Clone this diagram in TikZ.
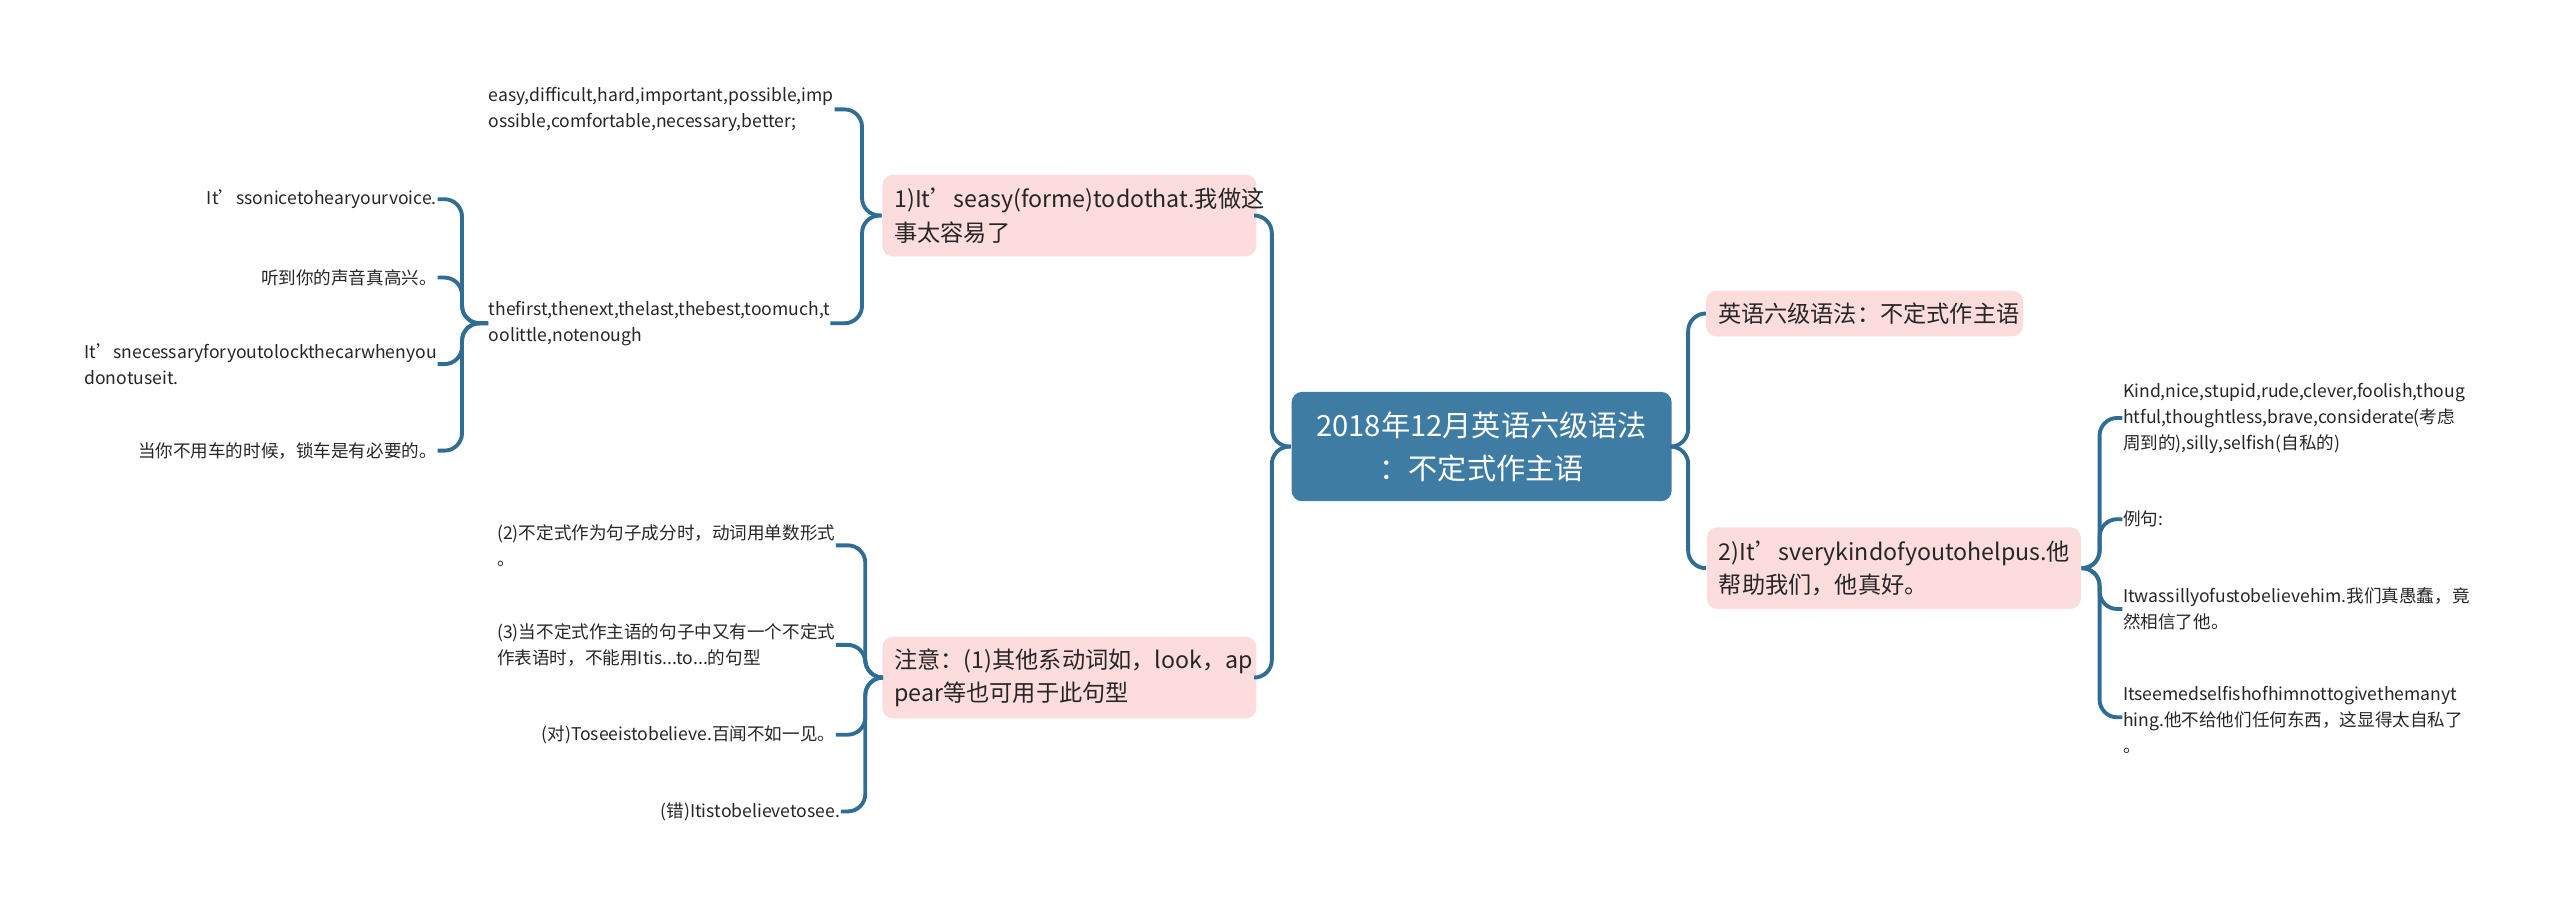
\documentclass[tikz,border=0pt]{standalone}
\usepackage{fontspec}
\setmainfont{Noto Sans CJK SC}
\begin{document}
\begin{tikzpicture}[x=0.01633cm,y=-0.01633cm,
  conn/.style={draw=linec,line width=1.1pt,rounded corners=5pt},
  leaf/.style={inner sep=0pt,align=left,font=\fontsize{5}{7.4}\selectfont,text=black!85},
  br/.style={fill=brfill,rounded corners=3pt,align=left,font=\fontsize{6.6}{9.5}\selectfont,text=black!85,inner xsep=0.12cm},
]
\definecolor{linec}{HTML}{2F6D96}
\definecolor{rootc}{HTML}{3F7CA3}
\definecolor{brfill}{HTML}{FCDCDC}
\useasboundingbox (0,0) rectangle (1568,555.5);
% root
\node[fill=rootc,rounded corners=3pt,text=white,align=center,minimum width=3.8cm,minimum height=1.094cm,font=\fontsize{8.3}{12.2}\selectfont] (root) at (907.5,273.5) {2018年12月英语六级语法\\：不定式作主语};
% branches
\node[br,text width=3.5cm,minimum height=0.8165cm] (b1) at (655,132) {1)It'seasy(forme)todothat.我做这\\事太容易了};
\node[br,text width=3.5cm,minimum height=0.8165cm] (b2) at (655,415) {注意：(1)其他系动词如，look，ap\\pear等也可用于此句型};
\node[br,text width=2.93cm,minimum height=0.457cm] (b3) at (1142,192) {英语六级语法：不定式作主语};
\node[br,text width=3.5cm,minimum height=0.8165cm] (b4) at (1160,348) {2)It'sverykindofyoutohelpus.他\\帮助我们，他真好。};
\coordinate (vL) at (779,0);
\coordinate (vR) at (1034,0);
\draw[conn] (root.west) -- (root.west -| vL) |- (b1.east);
\draw[conn] (root.west) -- (root.west -| vL) |- (b2.east);
\draw[conn] (root.east) -- (root.east -| vR) |- (b3.west);
\draw[conn] (root.east) -- (root.east -| vR) |- (b4.west);
% branch 1 children
\node[leaf,anchor=west] (e1) at (299,67) {easy,difficult,hard,important,possible,imp\\ossible,comfortable,necessary,better;};
\node[leaf,anchor=west] (e2) at (299,198) {thefirst,thenext,thelast,thebest,toomuch,t\\oolittle,notenough};
\coordinate (v1) at (528,0);
\draw[conn] (b1.west) -- (b1.west -| v1) |- (e1.east);
\draw[conn] (b1.west) -- (b1.west -| v1) |- (e2.east);
% e2 children
\node[leaf,anchor=east] (f1) at (268,122) {It'ssonicetohearyourvoice.};
\node[leaf,anchor=east] (f2) at (268,170) {听到你的声音真高兴。};
\node[leaf,anchor=east] (f3) at (268,223) {It'snecessaryforyoutolockthecarwhenyou\\donotuseit.};
\node[leaf,anchor=east] (f4) at (268,276) {当你不用车的时候，锁车是有必要的。};
\coordinate (v2) at (283,0);
\foreach \n in {f1,f2,f3,f4} \draw[conn] (e2.west) -- (e2.west -| v2) |- (\n.east);
% branch 2 children
\node[leaf,anchor=east] (g1) at (512,334) {(2)不定式作为句子成分时，动词用单数形式\\。};
\node[leaf,anchor=east] (g2) at (512,395) {(3)当不定式作主语的句子中又有一个不定式\\作表语时，不能用Itis...to...的句型};
\node[leaf,anchor=east] (g3) at (512,450) {(对)Toseeistobelieve.百闻不如一见。};
\node[leaf,anchor=east] (g4) at (515,497) {(错)Itistobelievetosee.};
\coordinate (v3) at (530,0);
\foreach \n in {g1,g2,g3,g4} \draw[conn] (b2.west) -- (b2.west -| v3) |- (\n.east);
% branch 4 children
\node[leaf,anchor=west] (h1) at (1300,256) {Kind,nice,stupid,rude,clever,foolish,thoug\\htful,thoughtless,brave,considerate(考虑\\周到的),silly,selfish(自私的)};
\node[leaf,anchor=west] (h2) at (1300,318) {例句:};
\node[leaf,anchor=west] (h3) at (1300,373) {Itwassillyofustobelievehim.我们真愚蠢，竟\\然相信了他。};
\node[leaf,anchor=west] (h4) at (1300,441) {Itseemedselfishofhimnottogivethemanyt\\hing.他不给他们任何东西，这显得太自私了\\。};
\coordinate (v4) at (1286,0);
\draw[conn] (b4.east) -- (b4.east -| v4) |- (h1.west);
\draw[conn] (b4.east) -- (b4.east -| v4) |- (h2.west);
\draw[conn] (b4.east) -- (b4.east -| v4) |- (h3.west);
\draw[conn] (b4.east) -- (b4.east -| v4) |- ([yshift=-9]h4.north west);
\end{tikzpicture}
\end{document}
